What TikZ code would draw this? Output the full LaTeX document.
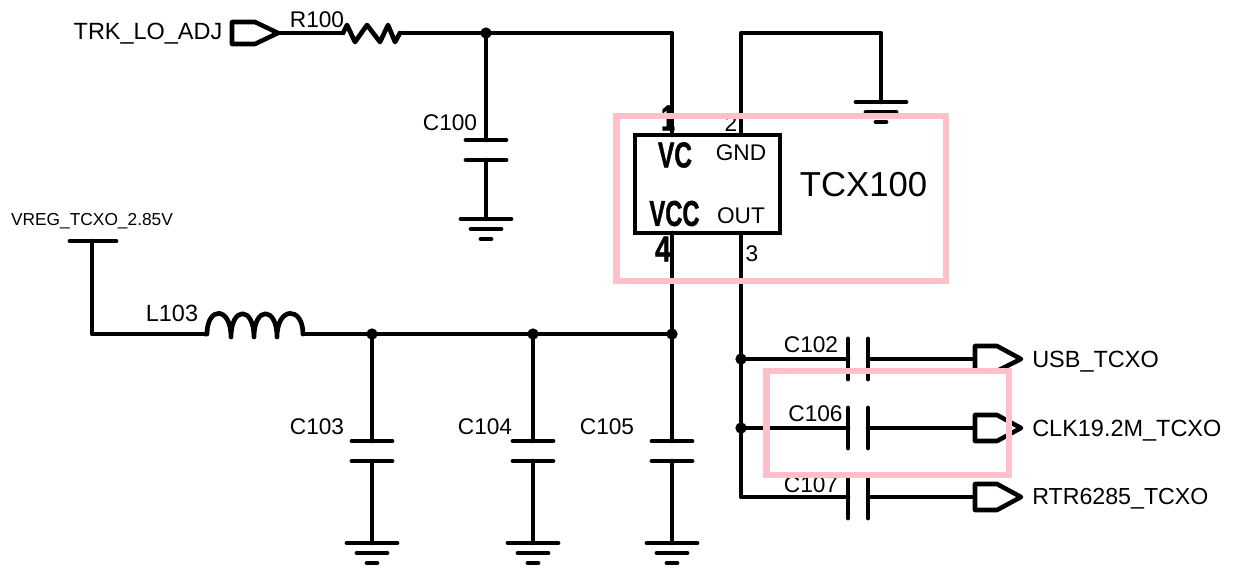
\documentclass[tikz,border=0pt]{standalone}
\usepackage{fontspec}
\usepackage{graphicx}
\setmainfont{Liberation Sans}
\newfontfamily\fatfont[BoldFeatures={FakeBold=1.2}]{Liberation Sans}
\definecolor{pinkbox}{HTML}{FFC0CB}
\tikzset{
  wire/.style={line width=3.5pt,line join=round,line cap=round},
  plate/.style={line width=3.6pt,line cap=round},
  port/.style={line width=3.4pt,line join=round,fill=white},
  dot/.style={circle,fill=black,inner sep=0pt,minimum size=8.5pt},
  lbl/.style={inner sep=0pt,font=\fontsize{17pt}{18pt}\selectfont},
  net lbl/.style={inner sep=0pt,font=\fontsize{17.6pt}{19pt}\selectfont},
  small lbl/.style={inner sep=0pt,font=\fontsize{13pt}{15pt}\selectfont},
  big lbl/.style={inner sep=0pt,font=\fontsize{26pt}{28pt}\selectfont},
  bold lbl/.style={inner sep=0pt,font=\fontsize{27pt}{28pt}\fatfont\bfseries},
  highlight/.style={draw=pinkbox,line width=4.6pt,line join=miter}
}
\newcommand{\gndsym}[2]{%
  \draw[plate] (#1-25,#2) -- (#1+25,#2);
  \draw[plate] (#1-15,#2+10) -- (#1+15,#2+10);
  \draw[plate] (#1-5,#2+20) -- (#1+5,#2+20);
}
\newcommand{\hcap}[2]{%
  \draw[plate] (#1-20,#2) -- (#1+20,#2);
  \draw[plate] (#1-20,#2+20) -- (#1+20,#2+20);
}
\newcommand{\vcap}[1]{%
  \draw[plate] (848,#1-20) -- (848,#1+20);
  \draw[plate] (868,#1-20) -- (868,#1+20);
}
\newcommand{\outport}[1]{%
  \draw[port] (975,#1-13) -- (997,#1-13) -- (1021,#1) -- (997,#1+13) -- (975,#1+13) -- cycle;
}
\begin{document}
\begin{tikzpicture}[x=0.75pt,y=-0.75pt]
\useasboundingbox (0,0) rectangle (1234,569);
% named points
\coordinate (tip) at (278,33);
\coordinate (rl) at (343,33);
\coordinate (rr) at (400,33);
\coordinate (j100) at (486,33);
\coordinate (top1) at (672,33);
\coordinate (top2) at (741,33);
\coordinate (topg) at (881,33);
\coordinate (g0) at (881,102);
\coordinate (c100a) at (486,140);
\coordinate (c100b) at (486,160);
\coordinate (g100) at (486,219);
\coordinate (vbar) at (92,241);
\coordinate (vcorner) at (92,334);
\coordinate (ll) at (205,334);
\coordinate (lr) at (303,334);
\coordinate (j103) at (372,334);
\coordinate (j104) at (533,334);
\coordinate (j105) at (672,334);
\coordinate (j102) at (741,359);
\coordinate (j106) at (741,428);
\coordinate (corner) at (741,497);
% IC
\node[draw,line width=3pt,minimum width=108.75pt,minimum height=73.5pt,inner sep=0pt] (ic) at (707.5,184) {};
\coordinate (pin1) at (672,135);
\coordinate (pin2) at (741,135);
\coordinate (pin4) at (672,233);
\coordinate (pin3) at (741,233);
% wires
\draw[wire] (tip) -- (rl);
\draw[wire] (rl) -- (347,25) -- (355,42) -- (367,25) -- (380,42) -- (388,25) -- (395,42) -- (rr);
\draw[wire] (rr) -- (j100) -- (top1) -- (pin1);
\draw[wire] (pin2) -- (top2) -- (topg) -- (g0);
\draw[wire] (j100) -- (c100a);
\draw[wire] (c100b) -- (g100);
\hcap{486}{140}
\gndsym{486}{219}
\gndsym{881}{102}
% supply
\draw[plate] (70,241) -- (116,241);
\draw[wire] (vbar) -- (vcorner) -- (ll);
\draw[wire] (ll) -- (207,334) .. controls (207,306) and (231,306) .. (231,337)
  .. controls (231,306) and (254,306) .. (254,337)
  .. controls (254,306) and (277,306) .. (277,337)
  .. controls (277,306) and (303,306) .. (lr);
\draw[wire] (lr) -- (j105) -- (pin4);
\foreach \x/\n in {372/103,533/104,672/105}{
  \draw[wire] (\x,334) -- (\x,441);
  \draw[wire] (\x,461) -- (\x,543);
  \hcap{\x}{441}
  \gndsym{\x}{543}
}
\node[dot] (d100) at (j100) {};
\node[dot] (d103) at (j103) {};
\node[dot] (d104) at (j104) {};
\node[dot] (d105) at (j105) {};
\node[dot] (d102) at (j102) {};
\node[dot] (d106) at (j106) {};
% outputs
\draw[wire] (pin3) -- (corner) -- (848,497);
\draw[wire] (j102) -- (848,359);
\draw[wire] (j106) -- (848,428);
\draw[wire] (868,359) -- (975,359);
\draw[wire] (868,428) -- (975,428);
\draw[wire] (868,497) -- (975,497);
\vcap{359}\vcap{428}\vcap{498}
\draw[port] (975,346) -- (997,346) -- (1021,359) -- (997,371) -- (975,371) -- cycle;
\outport{428}\outport{497}
\draw[port] (232,22) -- (255,22) -- (278,33) -- (255,44) -- (232,44) -- cycle;
% labels
\node[net lbl] (ltrk) at (148,34) {TRK\_LO\_ADJ};
\node[lbl] (lr100) at (317,20) {R100};
\node[lbl] (lc100) at (450,123) {C100};
\node[small lbl] (lvreg) at (92,221) {VREG\_TCXO\_2.85V};
\node[net lbl] (ll103) at (172,313) {L103};
\node[lbl] (lc103) at (317,427) {C103};
\node[lbl] (lc104) at (485,427) {C104};
\node[lbl] (lc105) at (607,427) {C105};
\node[lbl] (lc102) at (811,345) {C102};
\node[lbl] (lc106) at (815.5,414) {C106};
\node[lbl] (lc107) at (811,485) {C107};
\node[net lbl,anchor=west] (lusb) at (1032,362) {USB\_TCXO};
\node[net lbl,anchor=west] (lclk) at (1032,431) {CLK19.2M\_TCXO};
\node[net lbl,anchor=west,font=\fontsize{17.4pt}{19pt}\selectfont] (lrtr) at (1032,499) {RTR6285\_TCXO};
\node[lbl] (lgnd) at (741,153) {GND};
\node[lbl] (lout) at (741,216) {OUT};
\node[lbl] (lp2) at (731,124) {2};
\node[lbl] (lp3) at (752,254) {3};
\node[big lbl] (ltcx) at (863.5,185) {TCX100};
\node[bold lbl] (lvc) at (675,155) {\scalebox{0.68}[1]{VC}};
\node[bold lbl] (lvcc) at (674.5,213.5) {\scalebox{0.66}[1]{VCC}};
\node[bold lbl] (lp1) at (668,118) {\scalebox{0.7}[1]{1}};
\node[bold lbl] (lp4) at (663,249) {\scalebox{0.8}[1]{4}};
% highlights
\draw[highlight] (616.5,116) rectangle (946,281);
\draw[highlight] (766.5,371) rectangle (1009,475);
\end{tikzpicture}
\end{document}
